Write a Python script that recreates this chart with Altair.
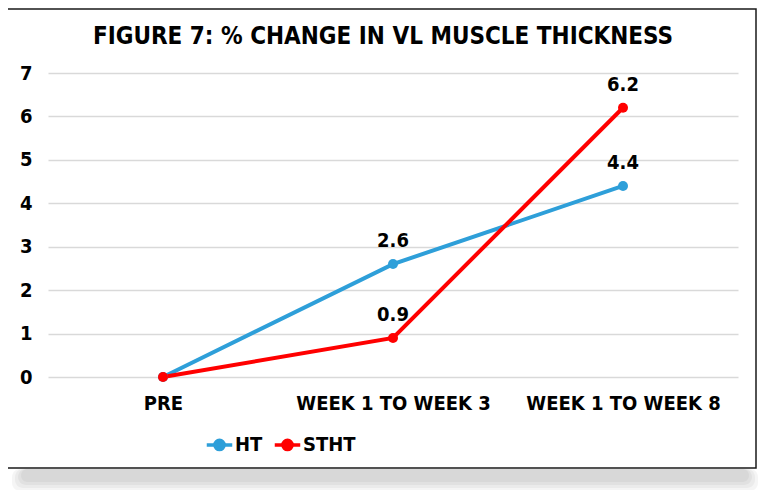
import altair as alt
import pandas as pd

categories = ["PRE", "WEEK 1 TO WEEK 3", "WEEK 1 TO WEEK 8"]
series = ["HT", "STHT"]
ht_values = [0, 2.6, 4.4]
stht_values = [0, 0.9, 6.2]
colors = ["#2e9fd9", "#ff0000"]
y_ticks = [0, 1, 2, 3, 4, 5, 6, 7]
title_text = "FIGURE 7: % CHANGE IN VL MUSCLE THICKNESS"

rows = []
for s, vals in zip(series, [ht_values, stht_values]):
    for c, v in zip(categories, vals):
        rows.append({"stage": c, "series": s, "value": v,
                     "label": f"{v:.1f}" if v > 0 else ""})
df = pd.DataFrame(rows)

FONT = "DejaVu Sans Condensed"

one = pd.DataFrame({"k": [0]})
title_df = pd.DataFrame({"t": [title_text]})

# soft shadow below the frame (only outside the frame area)
shadows = [
    alt.Chart(one).mark_rect(fill="#000000", opacity=0.04, cornerRadius=8).encode(
        x=alt.value(-36 + d), x2=alt.value(710 - d),
        y=alt.value(396), y2=alt.value(418 - d))
    for d in (0, 3, 6, 9)
]

frame = alt.Chart(one).mark_rect(fill=None, stroke="#1a1a1a", strokeWidth=1.5).encode(
    x=alt.value(-41), x2=alt.value(708), y=alt.value(-64), y2=alt.value(395))

title = alt.Chart(title_df).mark_text(
    font=FONT, fontSize=24, fontWeight="bold", color="#000000",
    align="center", baseline="alphabetic"
).encode(x=alt.value(335), y=alt.value(-29), text="t:N")

x_enc = alt.X("stage:N", sort=categories,
              scale=alt.Scale(type="point", padding=0.5),
              axis=alt.Axis(title=None, labelAngle=0, domain=False, ticks=False,
                            grid=False, labelFont=FONT, labelFontSize=20,
                            labelFontWeight="bold", labelColor="#000000",
                            labelPadding=16, labelLimit=0))
y_enc = alt.Y("value:Q", scale=alt.Scale(domain=[0, 7], nice=False),
              axis=alt.Axis(title=None, values=y_ticks, domain=False, ticks=False,
                            gridColor="#d9d9d9", gridWidth=1.5,
                            labelFont=FONT, labelFontSize=20, labelFontWeight="bold",
                            labelColor="#000000", labelPadding=16))
color_enc = alt.Color("series:N",
                      scale=alt.Scale(domain=series, range=colors),
                      legend=alt.Legend(
                          title=None, orient="none", direction="horizontal",
                          legendX=157, legendY=357,
                          symbolType="M-1,0H1M-0.36,0A0.36,0.36 0 1 1 0.36,0A0.36,0.36 0 1 1 -0.36,0Z",
                          symbolSize=650, symbolStrokeWidth=3.5,
                          labelFont=FONT, labelFontSize=20, labelFontWeight="bold",
                          labelColor="#000000", labelOffset=1, columnPadding=4))

base = alt.Chart(df).encode(x=x_enc, y=y_enc, color=color_enc)
lines = base.mark_line(strokeWidth=4)
points = base.mark_circle(size=100, opacity=1)
labels = alt.Chart(df).transform_filter("datum.value > 0").mark_text(
    dy=-23, font=FONT, fontSize=20, fontWeight="bold", color="#000000"
).encode(x=alt.X("stage:N", sort=categories), y="value:Q", text="label:N")

chart = alt.layer(*shadows, frame, title, lines, points, labels).properties(
    width=690, height=304,
    padding={"left": 40, "top": 65, "right": 22, "bottom": 113},
    autosize=alt.AutoSizeParams(type="none"),
    background="white",
).configure_view(stroke=None)

chart.save("out.html", embed_options={"renderer": "svg", "actions": False})
